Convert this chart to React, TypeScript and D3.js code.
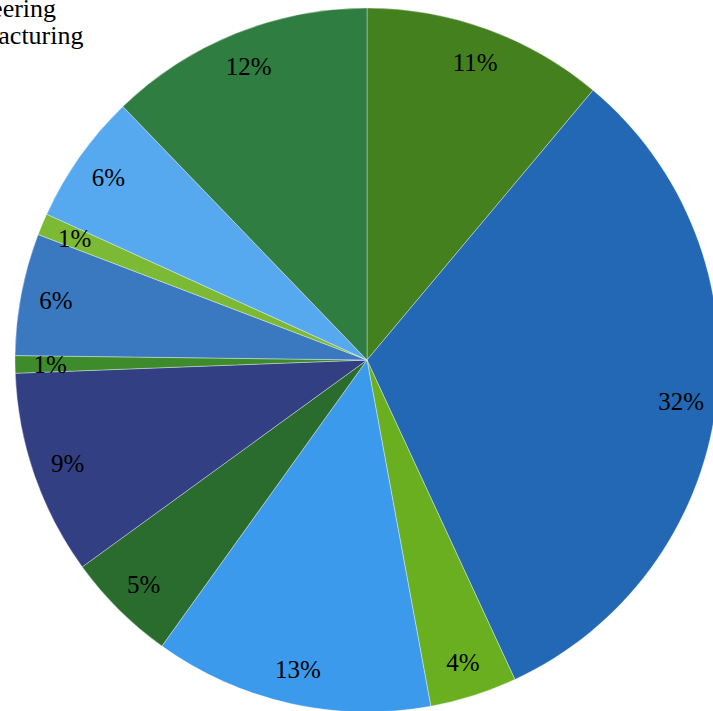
import React from "react";
import * as d3 from "d3";

const categories = ["A", "B", "C", "D", "E", "F", "G", "H", "I", "J", "K"];
const values = [11.1, 32.0, 4.0, 12.8, 5.1, 9.4, 0.8, 5.6, 1.0, 6.0, 12.2];
const colors = [
  "#45801e", "#2268b4", "#6aaf1f", "#3b9aeb", "#2a6b2e", "#323f83",
  "#3e8b2b", "#3a78c0", "#7cb935", "#57a9ef", "#2f7d41",
];
const legendLabels = ["Engineering", "Manufacturing"];

const W = 713;
const H = 711;
const FONT = '"Liberation Serif"';

export default function App() {
  const cx = 367, cy = 360, R = 352;
  const total = d3.sum(values);
  const arcs = d3.pie<number>().sort(null).value((d) => d)(values);
  const arc = d3.arc<d3.PieArcDatum<number>>().innerRadius(0).outerRadius(R);
  const labelArc = d3.arc<d3.PieArcDatum<number>>().innerRadius(R * 0.9).outerRadius(R * 0.9);

  return (
    <div style={{ position: "absolute", left: 0, top: 0 }}>
      <svg width={W} height={H} style={{ display: "block" }}>
        <g transform={`translate(${cx},${cy})`}>
          {arcs.map((d, i) => (
            <path
              key={categories[i]}
              d={arc(d) || ""}
              fill={colors[i]}
              stroke="#ffffff"
              strokeOpacity={0.6}
              strokeWidth={0.6}
            />
          ))}
          {arcs.map((d, i) => {
            const [x, y] = labelArc.centroid(d);
            return (
              <text
                key={"l" + categories[i]}
                x={x}
                y={y}
                dy="0.35em"
                textAnchor="middle"
                fill="#000"
                style={{ fontFamily: FONT, fontSize: "25px" }}
              >
                {`${Math.round((d.value / total) * 100)}%`}
              </text>
            );
          })}
        </g>
        {legendLabels.map((t, i) => (
          <text
            key={t}
            x={-71}
            y={17 + i * 27}
            fill="#000"
            style={{ fontFamily: FONT, fontSize: "26px" }}
          >
            {t}
          </text>
        ))}
      </svg>
    </div>
  );
}
